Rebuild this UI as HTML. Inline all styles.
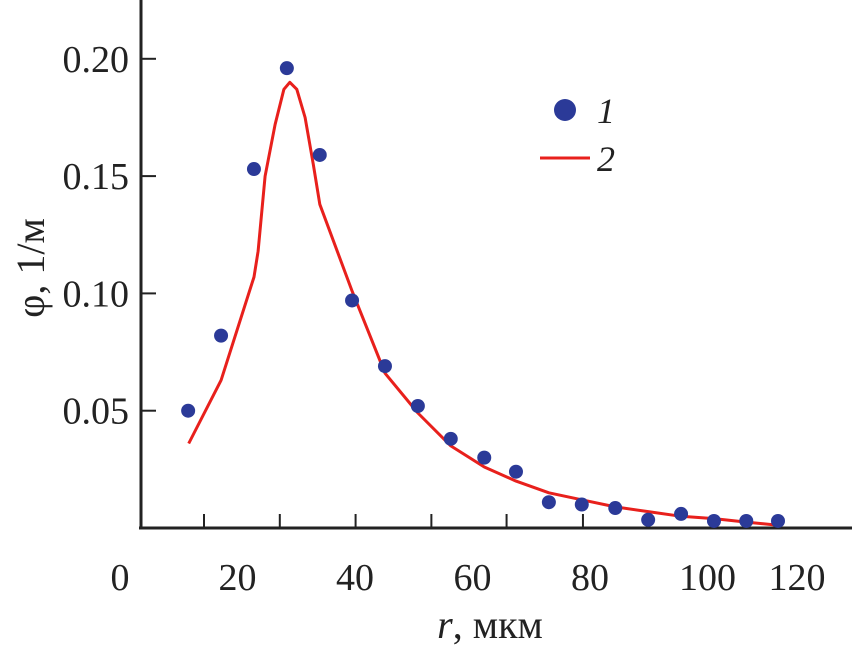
<!DOCTYPE html>
<html><head><meta charset="utf-8"><style>
html,body{margin:0;padding:0;background:#fff;}
svg{display:block;font-family:"Liberation Serif",serif;}
</style></head><body>
<svg id="chart" width="852" height="648" viewBox="0 0 852 648" xmlns="http://www.w3.org/2000/svg">
<g id="axes"></g>
<g id="series"></g>
<g>
  <circle cx="565" cy="110" r="11" fill="#2b3a98"/>
  <text x="597" y="123" font-size="36" font-style="italic" fill="#222">1</text>
  <line x1="540" y1="158" x2="590" y2="158" stroke="#e8201c" stroke-width="3"/>
  <text x="597" y="171" font-size="36" font-style="italic" fill="#222">2</text>
</g>
<text transform="translate(44,268) rotate(-90)" text-anchor="middle" font-size="40" fill="#222">φ, 1/м</text>
<text x="490" y="638" text-anchor="middle" font-size="40" fill="#222"><tspan font-style="italic">r</tspan>, мкм</text>
</svg>
<script>
const xTickLabels=[0,20,40,60,80,100,120];
const xMinorTicks=[14.3,27.2,40.1,53,65.8,78.8];
const yTickValues=[0.05,0.10,0.15,0.20];
const yTickLabels=["0.05","0.10","0.15","0.20"];
const pointR=[11.6,17.2,22.8,28.4,34,39.5,45.1,50.7,56.3,62,67.4,73,78.6,84.3,89.9,95.5,101.1,106.6,112];
const pointPhi=[0.050,0.082,0.153,0.196,0.159,0.097,0.069,0.052,0.038,0.030,0.024,0.011,0.010,0.0085,0.0035,0.006,0.003,0.003,0.003];
const lineR=[11.7,17.2,22.8,23.5,24.7,26.4,27.9,28.9,30.1,31.5,32.9,34,39.5,45.1,50.7,56.3,62,67.4,73,78.6,84.3,89.9,95.5,101.1,106.6,112];
const linePhi=[0.036,0.063,0.107,0.118,0.150,0.172,0.187,0.190,0.187,0.175,0.155,0.138,0.101,0.066,0.049,0.035,0.026,0.020,0.015,0.012,0.009,0.007,0.005,0.004,0.0025,0.0012];
const NS="http://www.w3.org/2000/svg";
function xs(v){return 120+v*5.875;}
function ys(v){return 528-v*2346;}
function mk(t,a,p){const e=document.createElementNS(NS,t);for(const k in a)e.setAttribute(k,a[k]);p.appendChild(e);return e;}
const ax=document.getElementById('axes'),se=document.getElementById('series');
let e=mk('line',{x1:141,y1:0,x2:141,y2:529,stroke:'#222','stroke-width':3},ax);


e=mk('line',{x1:139,y1:528,x2:852,y2:528,stroke:'#222','stroke-width':3},ax);


yTickValues.forEach((v,i)=>{
  const t=mk('line',{x1:141,y1:ys(v),x2:156,y2:ys(v),stroke:'#222','stroke-width':2},ax);
  
  
  const l=mk('text',{x:129,y:ys(v)+13,'text-anchor':'end','font-size':38,fill:'#222'},ax);
  l.textContent=yTickLabels[i];
  
  
});
xMinorTicks.forEach(v=>{
  const t=mk('line',{x1:xs(v),y1:514,x2:xs(v),y2:528,stroke:'#222','stroke-width':2},ax);
  
  
});
xTickLabels.forEach(v=>{
  const l=mk('text',{x:xs(v)+ (v==120?-28:0),y:590,'text-anchor':'middle','font-size':38,fill:'#222'},ax);
  l.textContent=String(v);
  
  
});
const d=lineR.map((r,i)=>(i?'L':'M')+xs(r).toFixed(1)+','+ys(linePhi[i]).toFixed(1)).join(' ');
const p=mk('path',{d:d,fill:'none',stroke:'#e8201c','stroke-width':3,'stroke-linejoin':'round'},se);


pointR.forEach((r,i)=>{
  const c=mk('circle',{cx:xs(r),cy:ys(pointPhi[i]),r:7,fill:'#2b3a98'},se);
  
  
});
</script>
</body></html>
